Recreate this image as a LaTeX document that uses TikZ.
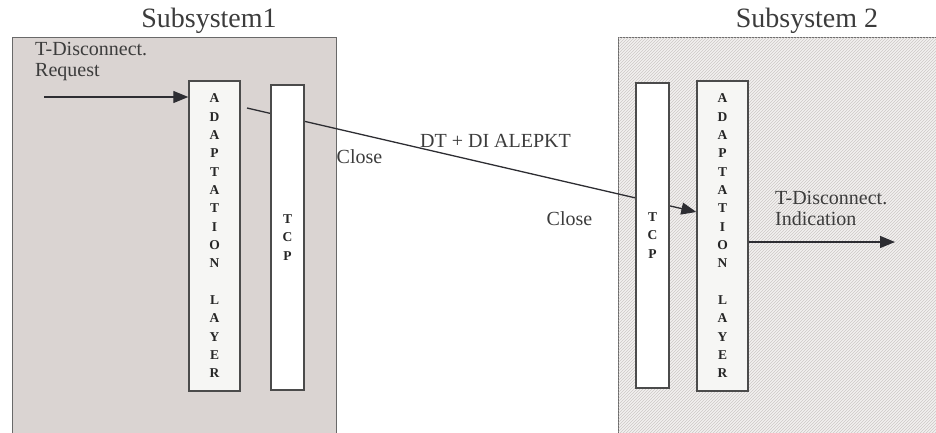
\documentclass[tikz,border=0pt]{standalone}
\usepackage{fontspec}
\setmainfont{Liberation Serif}
\usetikzlibrary{arrows.meta,patterns}
\definecolor{sysfill}{RGB}{218,212,210}
\definecolor{hatchfill}{RGB}{243,241,240}
\definecolor{hatchline}{RGB}{205,200,198}
\definecolor{sysline}{RGB}{105,105,105}
\definecolor{boxline}{RGB}{75,75,75}
\definecolor{layerfill}{RGB}{246,246,244}
\definecolor{textgray}{RGB}{60,60,60}
\definecolor{arrline}{RGB}{45,45,50}

\begin{document}
\begin{tikzpicture}[x=1pt,y=-1pt]
\path[use as bounding box] (0,0) rectangle (936,432);
\clip (0,0) rectangle (936,432);
\tikzstyle{system}=[draw=sysline, line width=1.4pt, anchor=north west, inner sep=0pt, minimum height=420pt]
\tikzstyle{layer}=[draw=boxline, line width=1.4pt, fill=layerfill, inner sep=0pt, align=center, text=black!85, font=\fontsize{13.5}{18.33}\selectfont\bfseries]
\tikzstyle{title}=[inner sep=0pt, text=textgray, font=\fontsize{28}{30}\selectfont]
\tikzstyle{label}=[inner sep=0pt, text=textgray, font=\fontsize{20}{21}\selectfont]
\tikzstyle{arr}=[draw=arrline, line width=1.3pt, -{Triangle[length=15pt,width=12pt]}]

% the two subsystems
\node[system, fill=sysfill, minimum width=324pt] (sys1) at (12,37) {};
\node[system, minimum width=330pt, fill=hatchfill,
      postaction={pattern=north east lines, pattern color=hatchline}] (sys2) at (618,37) {};
\node[title] (title1) at (209,21) {Subsystem1};
\node[title] (title2) at (807,21) {Subsystem 2};

% layer boxes
\node[layer, minimum width=51pt, minimum height=310pt] (adapt1) at (214.5,236) {A\\D\\A\\P\\T\\A\\T\\I\\O\\N\\\mbox{}\\L\\A\\Y\\E\\R};
\node[layer, minimum width=51pt, minimum height=310pt] (adapt2) at (722.5,236) {A\\D\\A\\P\\T\\A\\T\\I\\O\\N\\\mbox{}\\L\\A\\Y\\E\\R};

% data packet, passes behind the TCP boxes
\coordinate (dtstart) at (247,108);
\coordinate (dtend) at (adapt2.west |- 0,212);
\draw[arr] (dtstart) -- (dtend);

\node[layer, fill=white, minimum width=33pt, minimum height=305pt] (tcp1) at (287.5,237.5) {T\\C\\P};
\node[layer, fill=white, minimum width=33pt, minimum height=305pt] (tcp2) at (652.5,235.5) {T\\C\\P};

% primitives
\node[label, anchor=north west, align=left] (req) at (35,42) {T-Disconnect.\\Request};
\coordinate (reqstart) at (44,97);
\draw[arr] (reqstart) -- (reqstart -| adapt1.west);

\node[label, anchor=north west, align=left] (ind) at (775,191) {T-Disconnect.\\Indication};
\coordinate (indend) at (895,242);
\draw[arr] (adapt2.east |- indend) -- (indend);

\node[label] (dtlabel) at (495.5,141) {DT + DI ALEPKT};
\node[label] (close1) at (359.5,157) {Close};
\node[label] (close2) at (569.5,219) {Close};
\end{tikzpicture}
\end{document}
